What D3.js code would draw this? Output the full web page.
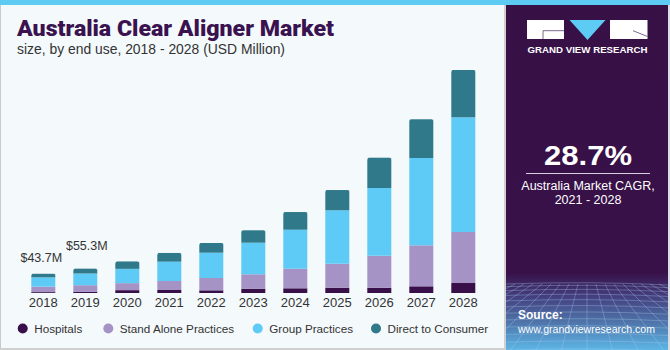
<!DOCTYPE html>
<html><head><meta charset="utf-8">
<script src="https://cdn.jsdelivr.net/npm/d3@7"></script>
<style>body{margin:0;padding:0;background:#fff;}svg{display:block;font-family:"Liberation Sans",Arial,sans-serif;}</style>
</head><body><svg id="c" width="670" height="350"></svg>
<script>
const years = ["2018","2019","2020","2021","2022","2023","2024","2025","2026","2027","2028"];
const hospitals = [2.0, 2.5, 6.5, 6.8, 6.1, 9.8, 10.7, 12.0, 12.0, 15.2, 22.7];
const standAlone = [12.5, 15.2, 15.9, 20.5, 28.0, 32.7, 44.5, 54.5, 72.7, 93.2, 115.9];
const groupPractices = [21.1, 26.6, 32.5, 43.9, 57.5, 71.8, 88.6, 121.4, 153.9, 198.4, 260.7];
const directToConsumer = [8.1, 11.0, 16.8, 19.8, 22.0, 28.2, 40.2, 46.1, 68.9, 88.0, 107.5];
const seriesNames = ["Hospitals","Stand Alone Practices","Group Practices","Direct to Consumer"];
const seriesColors = ["#380f48","#a593c6","#5dcbf6","#2f798b"];
const valueLabels = [{year:"2018", text:"$43.7M"},{year:"2019", text:"$55.3M"}];

const svg = d3.select("#c");
const W = 670, H = 350;

// backgrounds
svg.append("rect").attr("x",0).attr("y",0).attr("width",W).attr("height",H).attr("fill","#f4f9fc");
svg.append("rect").attr("x",0).attr("y",0).attr("width",1).attr("height",H).attr("fill","#c9c9c9");
svg.append("rect").attr("x",0).attr("y",348).attr("width",506).attr("height",2).attr("fill","#cfcfcf");
svg.append("rect").attr("x",504).attr("y",0).attr("width",2).attr("height",H).attr("fill","#d0d0d0");

// right panel
const defs = svg.append("defs");
const g1 = defs.append("linearGradient").attr("id","pg").attr("x1",0).attr("y1",0).attr("x2",0).attr("y2",1);
[[0,"#371046"],[0.78,"#381149"],[0.84,"#433a7a"],[0.92,"#4f74aa"],[1,"#5cb6e6"]].forEach(s=>g1.append("stop").attr("offset",s[0]).attr("stop-color",s[1]));
svg.append("rect").attr("x",506).attr("y",0).attr("width",162).attr("height",H).attr("fill","url(#pg)");
svg.append("rect").attr("x",668).attr("y",0).attr("width",2).attr("height",H).attr("fill","#d8dde2");
defs.append("clipPath").attr("id","pc").append("rect").attr("x",506).attr("y",282).attr("width",162).attr("height",68);
const grid = svg.append("g").attr("clip-path","url(#pc)").attr("stroke","#a9d0ee").attr("stroke-opacity",0.42).attr("stroke-width",0.8).attr("fill","none");
d3.range(0,14).forEach(i=>{const yy = 284 + Math.pow(i,1.35)*2.6; grid.append("path").attr("d",`M506,${yy} Q590,${yy-3} 668,${yy+1}`);});
d3.range(-14,15).forEach(i=>{grid.append("line").attr("x1",587+i*9).attr("y1",284).attr("x2",587+i*26).attr("y2",352);});

// top stripe
svg.append("rect").attr("x",0).attr("y",0).attr("width",W).attr("height",5).attr("fill","#5ecbf3");

// title
svg.append("text").attr("x",17).attr("y",35.5).attr("font-size",22).attr("font-weight",900)
  .attr("font-family","Roboto, 'Liberation Sans', Arial, sans-serif")
  .attr("fill","#3a1250").attr("textLength",317).attr("lengthAdjust","spacingAndGlyphs")
  .text("Australia Clear Aligner Market");
svg.append("text").attr("x",17).attr("y",54).attr("font-size",14).attr("fill","#333")
  .attr("textLength",268).attr("lengthAdjust","spacingAndGlyphs")
  .text("size, by end use, 2018 - 2028 (USD Million)");

// scales
const x = d3.scaleBand().domain(years).range([22.3,484.3]).paddingInner(0.4286).paddingOuter(0.2143);
const y = d3.scaleLinear().domain([0,500]).range([293,73]);

const rows = years.map((yr,i)=>({year:yr, s0:hospitals[i], s1:standAlone[i], s2:groupPractices[i], s3:directToConsumer[i]}));
const stack = d3.stack().keys(["s0","s1","s2","s3"])(rows);

const gb = svg.append("g");
stack.forEach((layer,li)=>{
  gb.selectAll(null).data(layer).enter().append("rect")
    .attr("x",d=>x(d.data.year)).attr("width",x.bandwidth())
    .attr("y",d=>y(d[1])).attr("height",d=>y(d[0])-y(d[1]))
    .attr("fill",seriesColors[li]);
});
// rounded top corners on top segment
gb.selectAll(null).data(stack[3]).enter().append("path")
  .attr("d",d=>{const x0=x(d.data.year), w=x.bandwidth(), t=y(d[1]), r=2;
    return `M${x0-0.5},${t-0.5} H${x0+r} Q${x0},${t} ${x0},${t+r} Z M${x0+w+0.5},${t-0.5} H${x0+w-r} Q${x0+w},${t} ${x0+w},${t+r} Z`;})
  .attr("fill","#f4f9fc");

// x axis
const ax = svg.append("g").attr("transform","translate(0,293)")
  .call(d3.axisBottom(x).tickSize(0).tickPadding(5));
ax.select(".domain").remove();
ax.selectAll("text").attr("font-size",13).attr("fill","#333").attr("font-family","'Liberation Sans', Arial, sans-serif");

// value labels
const totals = {};
rows.forEach(r=>totals[r.year]=r.s0+r.s1+r.s2+r.s3);
svg.selectAll(null).data(valueLabels).enter().append("text")
  .attr("x",(d,i)=>x(d.year)+x.bandwidth()/2 + (i===0?-2:1.5))
  .attr("y",(d,i)=>y(totals[d.year]) - (i===0?12:19))
  .attr("text-anchor","middle").attr("font-size",12.5).attr("fill","#333")
  .text(d=>d.text);

// legend
const legX = [22.7,108.3,257.7,376];
const lg = svg.append("g");
seriesNames.forEach((n,i)=>{
  lg.append("circle").attr("cx",legX[i]).attr("cy",328.5).attr("r",5).attr("fill",seriesColors[i]);
  lg.append("text").attr("x",legX[i]+11.5).attr("y",333).attr("font-size",11.7).attr("fill","#333").text(n);
});

// logo
const lgo = svg.append("g");
lgo.append("rect").attr("x",527).attr("y",20).attr("width",37).attr("height",19).attr("fill","#fff");
lgo.append("path").attr("d","M543,39 V30.7 H564").attr("stroke","#6b5a80").attr("stroke-width",0.9).attr("fill","none");
lgo.append("path").attr("d","M569.5,20 H605.5 L587.5,40 Z").attr("fill","#5ecbf5");
lgo.append("rect").attr("x",610).attr("y",20).attr("width",37.5).attr("height",19).attr("fill","#fff");
lgo.append("path").attr("d","M633,30.7 L647.5,36.5").attr("stroke","#6b5a80").attr("stroke-width",0.9).attr("fill","none");
svg.append("text").attr("x",527.5).attr("y",53.3).attr("font-size",8.5).attr("font-weight","bold").attr("fill","#fff")
  .attr("textLength",120).attr("lengthAdjust","spacingAndGlyphs").text("GRAND VIEW RESEARCH");

// CAGR
svg.append("text").attr("x",588).attr("y",165).attr("text-anchor","middle").attr("font-size",28).attr("font-weight","bold")
  .attr("fill","#fff").attr("textLength",88).attr("lengthAdjust","spacingAndGlyphs").text("28.7%");
svg.append("line").attr("x1",526).attr("x2",650).attr("y1",173.5).attr("y2",173.5).attr("stroke","#d8d0e0").attr("stroke-width",1.2);
svg.append("text").attr("x",588).attr("y",189.5).attr("text-anchor","middle").attr("font-size",12.5).attr("fill","#fff").text("Australia Market CAGR,");
svg.append("text").attr("x",588).attr("y",204).attr("text-anchor","middle").attr("font-size",12.5).attr("fill","#fff").text("2021 - 2028");

// source
svg.append("text").attr("x",518).attr("y",319).attr("font-size",12).attr("font-weight","bold").attr("fill","#fff").text("Source:");
svg.append("text").attr("x",518).attr("y",333).attr("font-size",11).attr("fill","#fff")
  .attr("textLength",137).attr("lengthAdjust","spacingAndGlyphs").text("www.grandviewresearch.com");
</script></body></html>
